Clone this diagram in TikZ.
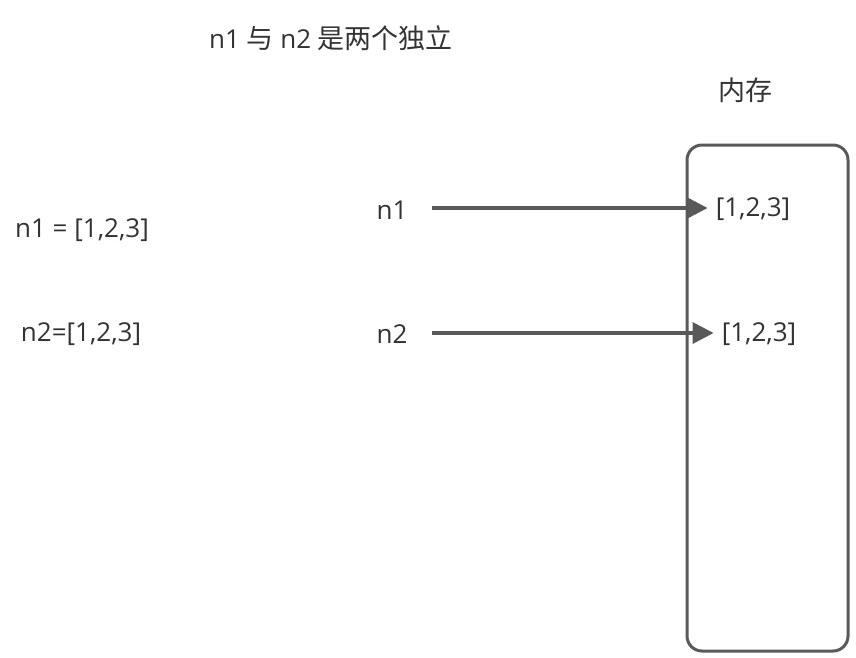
\documentclass[tikz,border=0pt]{standalone}
\usepackage{fontspec}
\setmainfont{Open Sans}
\newfontfamily\zh{Noto Sans CJK SC}
\newcommand\zhs{\zh\fontsize{27}{30}\selectfont}
\usetikzlibrary{arrows.meta}
\definecolor{linec}{HTML}{595959}
\definecolor{textc}{HTML}{333333}
\begin{document}
\begin{tikzpicture}[x=1pt,y=-1pt,
  lbl/.style={text=textc,font=\fontsize{26}{30}\selectfont,inner sep=0pt},
  conn/.style={draw=linec,line width=3.5pt,shorten >=8pt,-{Triangle[length=21pt,width=21pt]}},
  mem/.style={draw=linec,line width=3pt,rounded corners=15pt}]
\useasboundingbox (0,0) rectangle (856,657);
\draw[mem] (687,145) rectangle (848,651);
\node[lbl] (title) at (331,38) {n1 {\zhs 与} n2 {\zhs 是两个独立}};
\node[lbl] (mem) at (745,90) {\zhs 内存};
\node[lbl] (a1) at (82,230) {n1 = [1,2,3]};
\node[lbl] (a2) at (81,334) {n2=[1,2,3]};
\node[lbl] (n1) at (392,210) {n1};
\node[lbl] (n2) at (392,334) {n2};
\node[lbl] (v1) at (753,209) {[1,2,3]};
\node[lbl] (v2) at (759,334) {[1,2,3]};
\coordinate (s1) at (432,208);
\coordinate (s2) at (432,333);
\draw[conn] (s1) -- (v1.west |- s1);
\draw[conn] (s2) -- (v2.west |- s2);
\end{tikzpicture}
\end{document}
